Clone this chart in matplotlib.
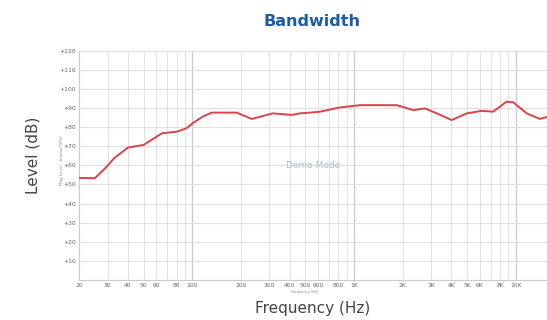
import matplotlib
matplotlib.use("Agg")
import matplotlib.pyplot as plt
from matplotlib.ticker import FixedLocator, NullFormatter

title = "Bandwidth"
x_label = "Frequency (Hz)"
y_label = "Level (dB)"

freq_hz = [20, 25, 29, 33, 40, 50, 65, 80, 92, 101, 116, 132, 188, 233, 315, 411,
           463, 535, 617, 818, 1090, 1840, 2330, 2750, 3250, 4020, 4980, 6170,
           7260, 8790, 9660, 11700, 14100, 15600]
level_db = [53.4, 53.3, 58.6, 63.9, 69.3, 70.7, 76.8, 77.6, 79.4, 82.2, 85.5, 87.6,
            87.6, 84.3, 87.2, 86.4, 87.2, 87.6, 88.1, 90.3, 91.5, 91.5, 88.9, 89.8,
            87.2, 83.7, 87.2, 88.5, 88.1, 93.3, 93.0, 87.2, 84.3, 85.3]

x_ticks = [20, 30, 40, 50, 60, 80, 100, 200, 300, 400, 500, 600, 800,
           1000, 2000, 3000, 4000, 5000, 6000, 8000, 10000]
x_tick_labels = ["20", "30", "40", "50", "60", "80", "100", "200", "300", "400",
                 "500", "600", "800", "1K", "2K", "3K", "4K", "5K", "6K", "8K", "10K"]
y_ticks = [10, 20, 30, 40, 50, 60, 70, 80, 90, 100, 110, 120]
y_tick_labels = ["+%d" % v for v in y_ticks]

fig = plt.figure(figsize=(5.47, 3.2), dpi=100)
W, H = 547, 320
left, right = 79.3, 547
top, bottom = 50.7, 280
ax = fig.add_axes([left / W, (H - bottom) / H, (right - left) / W, (bottom - top) / H])

ax.set_xscale("log")
ax.set_xlim(20, 15620)
ax.set_ylim(0, 120)

# grid
minor_grid = [20, 30, 40, 50, 60, 70, 80, 90, 200, 300, 400, 500, 600, 700, 800, 900,
              2000, 3000, 4000, 5000, 6000, 7000, 8000, 9000]
for f in minor_grid:
    ax.axvline(f, color="#e6e0e0", lw=0.7, zorder=0)
for f in [100, 1000, 10000]:
    ax.axvline(f, color="#cfc8c8", lw=0.9, zorder=0)
for v in y_ticks:
    ax.axhline(v, color="#e8dcdc", lw=0.8, zorder=0)

ax.plot(freq_hz, level_db, color="#d9444a", lw=1.4, zorder=3)

ax.xaxis.set_major_locator(FixedLocator(x_ticks))
ax.xaxis.set_minor_locator(FixedLocator([]))
ax.xaxis.set_minor_formatter(NullFormatter())
ax.set_xticks(x_ticks)
ax.set_xticklabels(x_tick_labels, fontsize=4.3, color="#666666")
ax.set_yticks(y_ticks)
ax.set_yticklabels(y_tick_labels, fontsize=4.3, color="#666666")
ax.tick_params(axis="both", length=0, pad=2.5)

for s in ["top", "right"]:
    ax.spines[s].set_visible(False)
for s in ["left", "bottom"]:
    ax.spines[s].set_color("#cccccc")
    ax.spines[s].set_linewidth(0.8)

ax.text(0.5, 0.5, "Demo Mode", transform=ax.transAxes, color="#9fc2d2",
        fontsize=6.5, ha="center", va="center")

# tiny inner axis labels
fig.text(62 / W, 1 - 160 / H, "Mag Level - Sound (SPL)", rotation=90, fontsize=3,
         color="#888888", ha="center", va="center")
fig.text(305 / W, 1 - 292 / H, "Frequency (Hz)", fontsize=2.6, color="#888888",
         ha="center", va="center")

fig.text(312 / W, 1 - 21 / H, title, fontsize=11.5, fontweight="bold",
         color="#1a5ca8", ha="center", va="center")
fig.text(33 / W, 1 - 155 / H, y_label, rotation=90, fontsize=11, color="#444444",
         ha="center", va="center")
fig.text(313 / W, 1 - 308 / H, x_label, fontsize=11, color="#444444",
         ha="center", va="center")

fig.savefig("out.png", dpi=100)
